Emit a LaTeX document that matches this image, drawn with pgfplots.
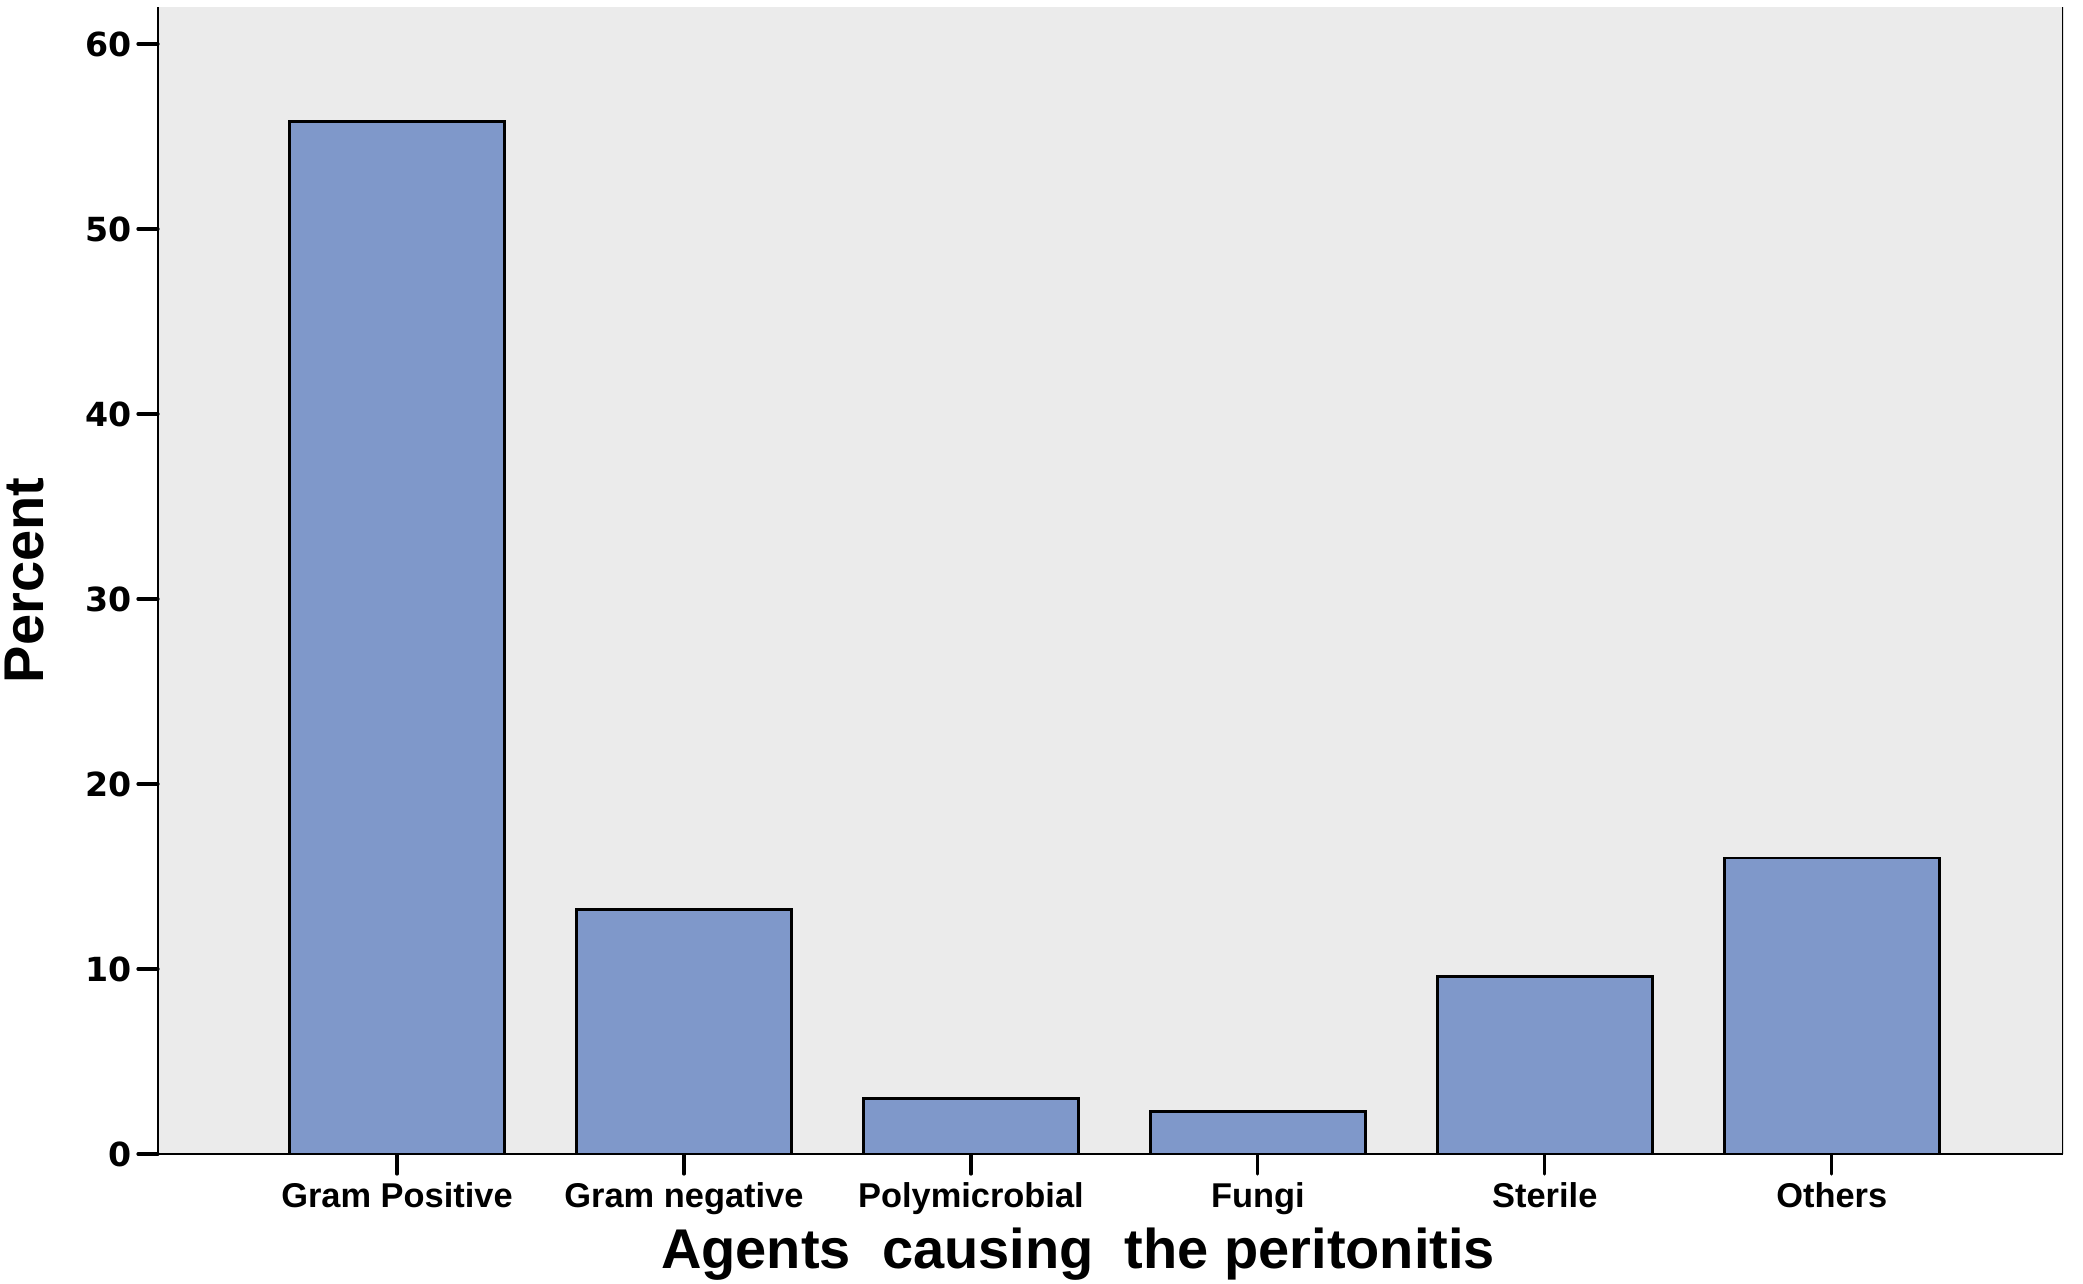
\documentclass[border=0pt]{standalone}
\usepackage{pgfplots}
\pgfplotsset{compat=1.18}
\usepackage{fontspec}
\setmainfont{Liberation Sans}
\newfontfamily\tickfont{DejaVu Sans}
\definecolor{barblue}{RGB}{127,152,202}
\definecolor{panel}{RGB}{235,235,235}

\begin{document}
\begin{tikzpicture}
\begin{axis}[
    scale only axis,
    width=476.25pt, height=286.75pt,
    xmin=-0.833, xmax=5.806,
    ymin=0, ymax=62,
    axis x line*=bottom, axis y line*=left,
    axis line style={line width=0.7pt, black},
    axis background/.style={fill=panel},
    xtick=data,
    xticklabels={Gram Positive,Gram negative,Polymicrobial,Fungi,Sterile,Others},
    ytick={0,10,...,60},
    tick align=outside,
    major tick length=5pt,
    tick style={line width=0.8pt, black, line cap=round},
    x tick label style={font=\bfseries\fontsize{8.6}{10}\selectfont, yshift=1.3pt},
    y tick label style={font=\tickfont\bfseries\fontsize{8.3}{10}\selectfont, xshift=2pt},
    /pgf/number format/assume math mode=true,
    xlabel={Agents~~causing~~the peritonitis},
    ylabel={Percent},
    label style={font=\bfseries\fontsize{14}{16}\selectfont},
    xlabel style={at={(axis description cs:0.483,-0.0994)}, anchor=base, inner sep=0pt},
    ylabel style={at={(axis description cs:-0.0808,0.5)}, anchor=north, inner sep=0pt},
]
\addplot[ybar, bar width=0.75, fill=barblue, draw=black, line width=0.7pt]
    coordinates {(0,55.8) (1,13.2) (2,3.0) (3,2.3) (4,9.6) (5,16.0)};
\draw[line width=0.7pt] (rel axis cs:1,0) -- (rel axis cs:1,1);
\coordinate (sw) at (rel axis cs:0,0);
\coordinate (ne) at (rel axis cs:1,1);
\end{axis}
\path ([shift={(-39.5pt,-32.25pt)}]sw) rectangle ([shift={(5pt,1.75pt)}]ne);
\end{tikzpicture}
\end{document}
